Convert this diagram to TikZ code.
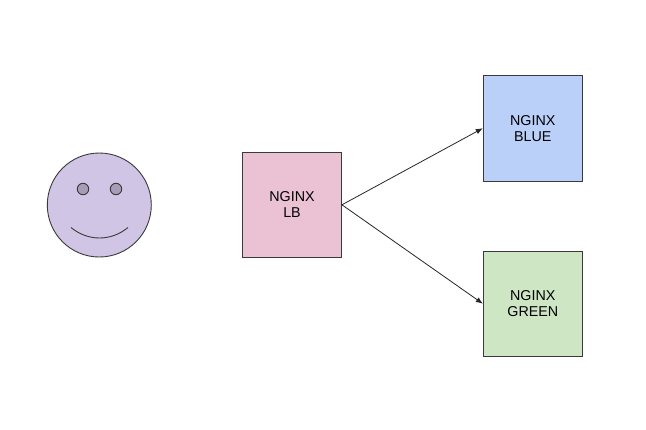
\documentclass[tikz,border=0pt]{standalone}
\usepackage{fontspec}
\setmainfont{Liberation Sans}
\definecolor{lbfill}{HTML}{EAC2D4}
\definecolor{bluefill}{HTML}{BBD0F8}
\definecolor{greenfill}{HTML}{CEE6C4}
\definecolor{facefill}{HTML}{D0C5E5}
\definecolor{eyefill}{HTML}{A69DB7}
\definecolor{edge}{HTML}{3A3A3A}
\usetikzlibrary{arrows.meta}
\tikzset{
  srv/.style={draw=edge,line width=0.9pt,minimum width=99pt,minimum height=105.5pt,inner sep=0pt,align=center,
    font=\fontsize{14.3}{16}\selectfont,text=black},
  link/.style={draw=black!85,line width=0.8pt,-{Latex[length=7pt,width=5.5pt]}},
  face/.style={draw=edge,line width=0.9pt}
}
\begin{document}
\begin{tikzpicture}[x=1pt,y=-1pt]
\useasboundingbox (0,0) rectangle (646,429);
\fill[white] (0,0) rectangle (646,429);
\node[circle,face,fill=facefill,minimum size=104pt,inner sep=0pt] (head) at (99.3,205) {};
\node[circle,face,fill=eyefill,minimum size=11.5pt,inner sep=0pt] (eyeL) at (83,189) {};
\node[circle,face,fill=eyefill,minimum size=11.5pt,inner sep=0pt] (eyeR) at (116,189) {};
\coordinate (smileL) at (71,227.5);
\coordinate (smileR) at (128,227.5);
\draw[face] (smileL) .. controls (88,241.5) and (111,241.5) .. (smileR);
\node[srv,fill=lbfill] (lb) at (292,204.8) {NGINX\\LB};
\node[srv,fill=bluefill] (blue) at (532.8,128.2) {NGINX\\BLUE};
\node[srv,fill=greenfill] (green) at (532.8,303.7) {NGINX\\GREEN};
\draw[link] (lb.east) -- (blue.west);
\draw[link] (lb.east) -- (green.west);
\end{tikzpicture}
\end{document}
